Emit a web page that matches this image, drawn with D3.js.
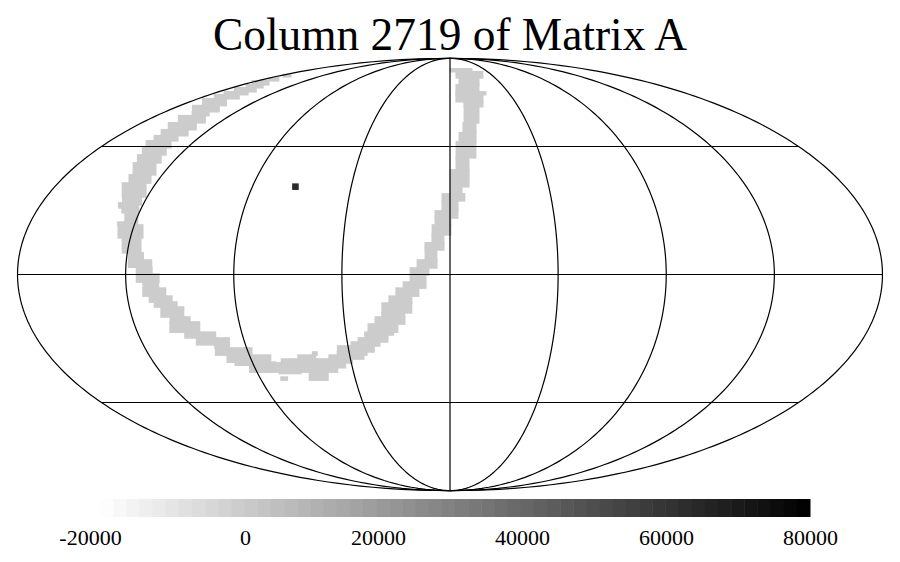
<!DOCTYPE html>
<head>
	<meta charset="utf-8">
	<script src="https://d3js.org/d3.v7.min.js"></script>
	<style>
		body { margin: 0; background: white; }
		text { font-family: "Liberation Serif", serif; fill: black; }
	</style>
</head>
<body>
<script>
var chartTitle = "Column 2719 of Matrix A";
var meridians = [-135, -90, -45, 0, 45, 90, 135];
var parallels = [-45, 0, 45];
var tickValues = [-20000, 0, 20000, 40000, 60000, 80000];
var colorDomain = [-20000, 80000];
var ringValue = 0;
var spotValue = 63500;

// the isolated dark pixel: lat top, lat bottom, lon left, lon right
var spotCell = [31.35, 29.0, -71.9, -68.9];

// ring pixels: lat top, lat bottom, lon left, lon right
var ringCells = [
	[80.8, 79.0, 1.3, 26.7], [79.0, 75.4, 7.6, 34.8], [75.4, 71.7, 9.3, 26.0], [71.7, 68.2, 5.7, 22.9],
	[68.2, 66.8, 5.3, 26.7], [66.8, 63.5, 5.0, 23.0], [63.5, 61.3, 10.1, 21.6], [61.3, 54.4, 9.3, 17.3],
	[54.4, 50.4, 7.9, 14.2], [50.4, 46.8, 5.4, 13.5], [46.8, 40.7, 3.6, 12.7], [40.7, 36.2, 3.4, 8.7],
	[36.2, 30.1, 0.5, 8.4], [30.1, 27.6, 0.5, 5.0], [27.6, 25.15, -3.1, 6.2], [25.15, 21.65, -3.1, 3.1],
	[21.65, 19.2, -6.1, 3.0], [19.2, 16.8, -6.0, 0], [16.8, 13.4, -7.2, 0], [13.4, 10.7, -7.2, -3.0],
	[10.7, 8.3, -10.1, -2.9], [8.3, 4.9, -10.0, -5.9], [4.9, 2.2, -13.3, -5.8], [2.2, -0.15, -16.2, -9.2],
	[-0.15, -2.55, -16.2, -10.4], [-2.55, -4.6, -19.1, -10.4], [-4.6, -7.3, -22.2, -13.4], [-7.3, -9.65, -25.2, -16.4],
	[-9.65, -13.0, -28.3, -16.5], [-13.0, -14.4, -28.5, -19.6], [-14.4, -16.8, -31.5, -19.6], [-16.8, -19.6, -34.8, -22.8],
	[-19.6, -20.6, -36.5, -24.8], [-20.6, -21.6, -36.6, -27.4], [-21.6, -23.0, -39.7, -27.5], [-23.0, -24.4, -43.1, -31.2],
	[-24.4, -26.5, -49.5, -34.0], [-26.5, -27.6, -50.0, -37.5], [-27.6, -29.0, -54.1, -39.2], [-29.0, -30.4, -60.6, -44.7],
	[-27.6, -29.0, -68.1, -60.9], [-26.5, -27.6, -61.1, -59.8], [-29.0, -30.4, -76.2, -60.6], [-30.4, -33.7, -79.5, -52.2],
	[-30.4, -32.1, -61.2, -48.3], [-33.0, -34.2, -79.2, -69.9], [-33.3, -36.6, -65.8, -57.8], [-35.5, -36.6, -79.9, -77.6],
	[-30.1, -31.2, -97.8, -80.0], [-31.2, -33.7, -92.2, -80.7], [-27.6, -30.1, -100.3, -81.4], [-25.1, -27.6, -104.1, -88.6],
	[-24.0, -25.1, -103.4, -97.7], [-21.6, -24.0, -110.6, -97.0], [-19.6, -21.6, -114.6, -102.0], [-16.1, -19.6, -119.8, -107.8],
	[-14.4, -16.1, -118.7, -111.0], [-11.0, -14.4, -121.8, -112.9], [-9.3, -11.0, -123.9, -115.1], [-7.3, -9.3, -125.6, -116.8],
	[-4.6, -7.3, -127.9, -119.1], [-2.55, -4.6, -127.6, -121.8], [0.17, -2.55, -130.2, -121.5], [2.5, 0.17, -130.2, -124.4],
	[4.9, 2.5, -133.4, -124.7], [7.3, 2.5, -133.8, -128.3], [12.4, 7.3, -137.3, -130.2], [16.8, 12.4, -140.6, -130.8],
	[17.8, 16.8, -141.9, -134.2], [21.0, 17.8, -139.9, -135.1], [22.7, 21.0, -142.6, -136.0], [24.45, 22.7, -145.2, -137.3],
	[26.5, 23.75, -144.5, -137.0], [31.5, 26.5, -147.8, -137.9], [34.4, 31.5, -148.5, -139.2], [32.6, 31.5, -140.6, -138.7],
	[38.8, 34.4, -150.7, -140.7], [41.8, 38.8, -153.5, -142.7], [44.5, 41.8, -155.3, -144.2], [47.2, 44.5, -157.9, -145.9],
	[49.2, 47.2, -158.1, -146.3], [51.6, 49.2, -158.7, -144.9], [54.4, 51.6, -160.5, -145.6], [57.4, 54.4, -161.8, -146.9],
	[59.1, 57.4, -159.9, -150.5], [61.8, 59.1, -166.5, -150.3], [64.9, 61.8, -169.9, -154.8], [66.8, 64.9, -171.6, -154.8],
	[68.2, 66.8, -171.7, -154.9], [70.2, 68.2, -172.0, -156.0], [71.7, 70.2, -171.5, -158.9], [73.8, 71.7, -177.3, -163.8],
	[75.4, 73.8, -174.2, -166.5], [77.2, 76.0, -175.5, -169.1]
];

var width = 900, height = 562;
var bar = {left: 100, right: 810, top: 499, bottom: 517, steps: 54};
var ringPad = {x: 1.5, y: 0.8};

function mollweideRaw(lambda, phi) {
	var theta = phi;
	if (Math.abs(phi) < Math.PI / 2) {
		for (var i = 0; i < 30; i++) {
			theta -= (2 * theta + Math.sin(2 * theta) - Math.PI * Math.sin(phi)) / (2 + 2 * Math.cos(2 * theta));
		}
	}
	return [2 * Math.SQRT2 / Math.PI * lambda * Math.cos(theta), Math.SQRT2 * Math.sin(theta)];
}

var projection = d3.geoProjection(mollweideRaw)
	.scale(152.9)
	.translate([450, 274.5]);

var color = d3.scaleLinear().domain(colorDomain).range(["#ffffff", "#000000"]);

var svg = d3.select("body").append("svg")
	.attr("width", width)
	.attr("height", height);

svg.append("text")
	.attr("x", 450)
	.attr("y", 50)
	.attr("text-anchor", "middle")
	.style("font-size", "45.4px")
	.text(chartTitle);

function drawCells(cells, fill, pad) {
	svg.append("g").selectAll("rect")
		.data(cells)
		.enter()
		.append("rect")
		.attr("x", function(d) { return projection([d[2], (d[0] + d[1]) / 2])[0] - pad.x; })
		.attr("y", function(d) { return projection([d[2], d[0]])[1] - pad.y; })
		.attr("width", function(d) {
			var mid = (d[0] + d[1]) / 2;
			return projection([d[3], mid])[0] - projection([d[2], mid])[0] + 2 * pad.x;
		})
		.attr("height", function(d) { return projection([d[2], d[1]])[1] - projection([d[2], d[0]])[1] + 2 * pad.y; })
		.attr("fill", fill);
}

drawCells(ringCells, color(ringValue), ringPad);
drawCells([spotCell], color(spotValue), {x: 0, y: 0});

// graticule
var line = d3.line();
var lats = d3.range(-90, 90.5, 1);

function meridianPoints(lon) {
	return lats.map(function(lat) { return projection([lon, lat]); });
}

var grid = svg.append("g")
	.attr("fill", "none")
	.attr("stroke", "black")
	.attr("stroke-width", 1.2);

grid.selectAll(".meridian")
	.data(meridians)
	.enter()
	.append("path")
	.attr("class", "meridian")
	.attr("d", function(d) { return line(meridianPoints(d)); });

grid.selectAll(".parallel")
	.data(parallels)
	.enter()
	.append("path")
	.attr("class", "parallel")
	.attr("d", function(d) { return line([projection([-180, d]), projection([180, d])]); });

grid.append("path")
	.attr("d", line(meridianPoints(-180).concat(meridianPoints(180).reverse())) + "Z");

// colour bar
var barX = d3.scaleLinear().domain(colorDomain).range([bar.left, bar.right]);
var stepValue = (colorDomain[1] - colorDomain[0]) / bar.steps;
var barValues = d3.range(bar.steps).map(function(i) {
	return colorDomain[0] + (i + 0.5) * stepValue;
});

svg.append("g").selectAll("rect")
	.data(barValues)
	.enter()
	.append("rect")
	.attr("x", function(d) { return barX(d - stepValue / 2); })
	.attr("y", bar.top)
	.attr("width", barX(colorDomain[0] + stepValue) - barX(colorDomain[0]) + 0.5)
	.attr("height", bar.bottom - bar.top)
	.attr("fill", function(d) { return color(d); });

// labels sit on their own scale, it starts a bit left of the bar
var tickX = d3.scaleLinear().domain(colorDomain).range([90, bar.right]);
var axis = svg.append("g")
	.attr("transform", "translate(0," + bar.bottom + ")")
	.call(d3.axisBottom(tickX).tickValues(tickValues).tickSize(0).tickPadding(12).tickFormat(String));

axis.select(".domain").remove();
axis.selectAll("text")
	.style("font-family", "Liberation Serif")
	.style("font-size", "22px")
	.attr("dx", function(d) { return d === 0 ? 11 : 0; });
</script>
</body>
